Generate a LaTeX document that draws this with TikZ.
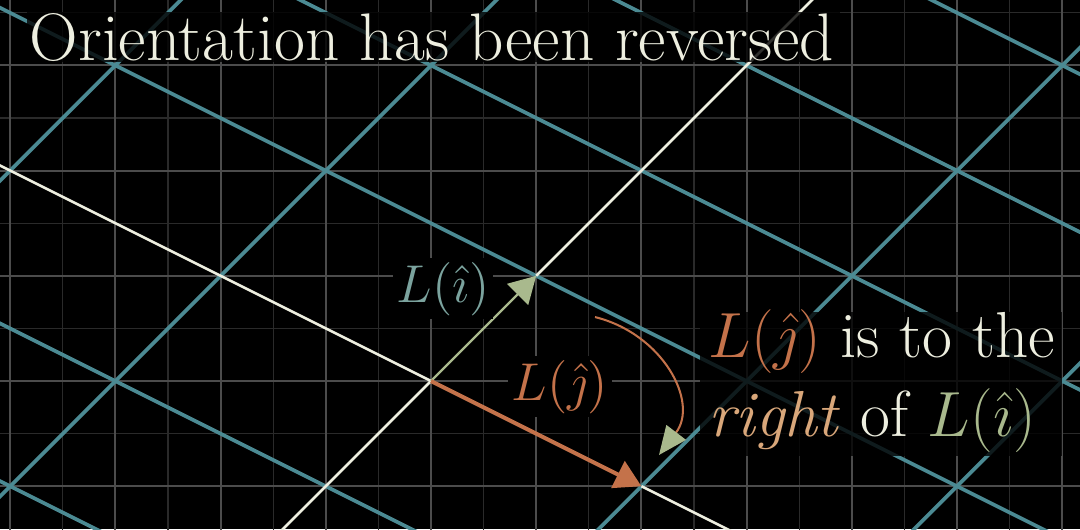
\documentclass[tikz,border=0pt]{standalone}
\definecolor{gridmajor}{HTML}{4C4C4C}
\definecolor{gridminor}{HTML}{2A2A2A}
\definecolor{latticeteal}{HTML}{4B8A93}
\definecolor{axiscream}{HTML}{EEEFE0}
\definecolor{ihatgreen}{HTML}{A9B98D}
\definecolor{ilabelteal}{HTML}{7BA39E}
\definecolor{jhatorange}{HTML}{C4724A}
\definecolor{rightpeach}{HTML}{D9A77A}
\usepackage{amsmath}
\usepackage{tikz}
\usetikzlibrary{arrows.meta}

\tikzset{
  latticeline/.style={latticeteal, line width=1pt},
  axisline/.style={axiscream, line width=0.7pt},
  vectip/.style={-{Triangle[length=2.5mm, width=2.8mm]}},
  titletext/.style={text=axiscream, font=\fontsize{18.2}{22}\selectfont},
  bodytext/.style={text=axiscream, font=\fontsize{17.6}{21}\selectfont, inner sep=0pt},
  veclabel/.style={fill=black, inner sep=1pt, font=\fontsize{13.8}{16}\selectfont}
}

\begin{document}
\begin{tikzpicture}[>=Stealth]
  \useasboundingbox[fill=black] (-4.097,-1.407) rectangle (6.169,3.622);
  \clip (-4.097,-1.407) rectangle (6.169,3.622);

  % Background grid
  \draw[gridminor, line width=0.3pt] (-5,-2) grid[step=0.5] (7,4);
  \draw[gridmajor, line width=0.55pt] (-5,-2) grid[step=1] (7,4);

  % Transformed grid
  \foreach \b in {-2,-1,1,2}
    \draw[latticeline] ({3*\b-6},-6) -- ({3*\b+6},6);
  \foreach \a in {-2,-1,1,2,3,4}
    \draw[latticeline] ({3*\a+4},-2) -- ({3*\a-16},8);

  % Basis vectors
  \coordinate (O) at (0,0);
  \coordinate (Li) at (1,1);
  \coordinate (Lj) at (2,-1);
  \draw[axisline] (-6,-6) -- (O);
  \draw[axisline] (Li) -- (6,6);
  \draw[axisline] (-8,4) -- (O);
  \draw[axisline] (Lj) -- (8,-4);
  \draw[ihatgreen, line width=0.6pt, vectip] (O) -- (Li);
  \draw[jhatorange, line width=1.1pt, vectip] (O) -- (Lj);

  \node[veclabel, text=ilabelteal, anchor=base] (labI) at (0.114,0.751) {$L(\hat{\imath})$};
  \node[veclabel, text=jhatorange, anchor=base] (labJ) at (1.226,-0.181) {$L(\hat{\jmath})$};

  % Rotation arrow
  \coordinate (rotS) at (1.559,0.608);
  \coordinate (rotE) at (2.167,-0.703);
  \draw[jhatorange, line width=0.55pt, -{Triangle[length=2.7mm, width=2.3mm, color=ihatgreen]}]
    (rotS) .. controls (2.2,0.45) and (2.55,-0.2) .. (rotE);

  % Title
  \fill[black, fill opacity=0.8] (-3.84,3.03) rectangle (3.89,3.51);
  \node[titletext, anchor=base west, inner sep=0pt] (title) at (-3.821,3.051) {Orientation has been reversed};

  % Statement
  \fill[black, fill opacity=0.8] (2.557,0.656) rectangle (5.998,-0.713);
  \node[bodytext, anchor=base west] (line1) at (2.633,0.219)
    {\textcolor{jhatorange}{$L(\hat{\jmath})$} is to the};
  \node[bodytext, anchor=base west] (line2) at (2.633,-0.532)
    {\textcolor{rightpeach}{\textit{right}} of \textcolor{ihatgreen}{$L(\hat{\imath})$}};
\end{tikzpicture}
\end{document}
